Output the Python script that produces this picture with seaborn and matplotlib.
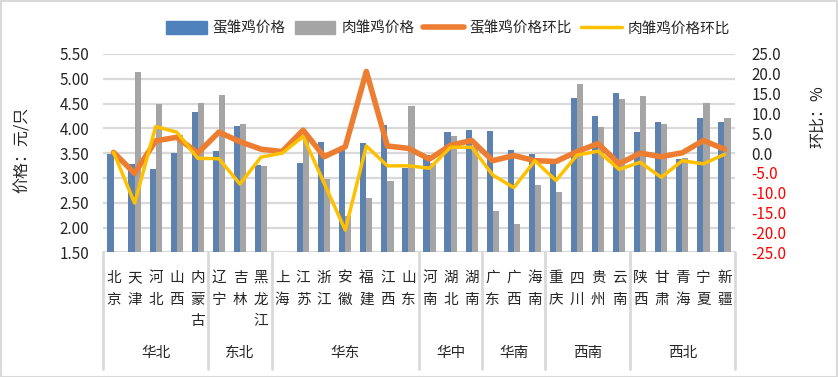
import numpy as np
import pandas as pd
import matplotlib
matplotlib.use('Agg')
import matplotlib.pyplot as plt
import matplotlib.transforms as mtransforms
from matplotlib.patches import Rectangle
from matplotlib.lines import Line2D
import seaborn as sns

# 数据
provincias = ['北京', '天津', '河北', '山西', '内蒙古', '辽宁', '吉林', '黑龙江',
              '上海', '江苏', '浙江', '安徽', '福建', '江西', '山东',
              '河南', '湖北', '湖南', '广东', '广西', '海南',
              '重庆', '四川', '贵州', '云南', '陕西', '甘肃', '青海', '宁夏', '新疆']
regiones = ['华北', '东北', '华东', '华中', '华南', '西南', '西北']
tam_regiones = [5, 3, 7, 3, 3, 4, 5]

precio_huevo = [3.48, 3.28, 3.18, 3.50, 4.33, 3.55, 4.05, 3.26, np.nan, 3.30,
                3.73, 3.62, 3.70, 4.07, 3.21, 3.46, 3.93, 3.97, 3.95, 3.56,
                3.48, 3.30, 4.61, 4.25, 4.71, 3.93, 4.13, 3.38, 4.21, 4.13]
precio_carne = [np.nan, 5.14, 4.49, 3.87, 4.51, 4.67, 4.09, 3.24, np.nan, 3.88,
                2.98, 2.24, 2.60, 2.94, 4.45, 3.30, 3.85, 3.65, 2.33, 2.07,
                2.86, 2.72, 4.90, 4.03, 4.59, 4.65, 4.09, 3.40, 4.51, 4.21]
var_huevo = [0.2, -5.1, 3.1, 4.0, 0.0, 5.3, 2.9, 1.0, 0.4, 5.8,
             -0.9, 1.6, 20.6, 1.8, 1.2, -1.5, 2.0, 3.2, -1.9, -0.6,
             -1.9, -2.1, 0.4, 2.4, -2.7, 0.0, -0.9, 0.1, 3.2, 1.0]
var_carne = [0.2, -12.6, 6.7, 5.3, -1.3, -1.4, -7.8, -1.0, 0.0, 4.2,
             -7.6, -19.4, 1.8, -3.2, -3.2, -3.8, 1.5, 1.5, -5.5, -8.7,
             -1.9, -6.9, -0.5, 0.5, -4.1, -2.3, -6.1, -1.9, -2.7, -0.3]

sns.set_theme(style='white')
plt.rcParams['font.family'] = ['Noto Sans CJK SC', 'DejaVu Sans']
plt.rcParams['axes.unicode_minus'] = False

W, H = 838, 377
fig = plt.figure(figsize=(W / 100, H / 100), dpi=100)
ax = fig.add_axes([103 / W, 1 - 252.3 / H, (735 - 103) / W, (252.3 - 54) / H])

# Barras
df = pd.DataFrame({
    'provincia': provincias * 2,
    'serie': ['蛋雏鸡价格'] * len(provincias) + ['肉雏鸡价格'] * len(provincias),
    'precio': precio_huevo + precio_carne,
}).dropna()
sns.barplot(data=df, x='provincia', y='precio', hue='serie', order=provincias,
            hue_order=['蛋雏鸡价格', '肉雏鸡价格'], palette=['#4F81BD', '#A5A5A5'],
            width=0.58, linewidth=0, errorbar=None, ax=ax, legend=False, zorder=2)
ax.set_ylim(1.5, 5.5)
ax.set_yticks(np.arange(1.5, 5.51, 0.5))
ax.set_yticklabels([f'{v:.2f}' for v in np.arange(1.5, 5.51, 0.5)], fontsize=11, color='#262626')
ax.set_xlim(-0.5, len(provincias) - 0.5)
ax.set_xticks([])
ax.set_xlabel('')
ax.set_ylabel('')
ax.yaxis.grid(True, color='#D9D9D9', linewidth=1.6, zorder=0)
ax.set_axisbelow(True)
ax.tick_params(axis='y', length=0, pad=10)
for s in ax.spines.values():
    s.set_visible(False)

# Lineas (eje secundario)
ax2 = ax.twinx()
x = np.arange(len(provincias))
sns.lineplot(x=x, y=var_huevo, ax=ax2, color='#ED7D31', linewidth=4, sort=False)
sns.lineplot(x=x, y=var_carne, ax=ax2, color='#FFC000', linewidth=2.5, sort=False)
ax2.set_ylim(-25, 25)
ticks2 = np.arange(-25, 25.1, 5)
ax2.set_yticks(ticks2)
ax2.set_yticklabels([f'{v:.1f}' for v in ticks2], fontsize=11)
for lbl, v in zip(ax2.get_yticklabels(), ticks2):
    lbl.set_color('#FF0000' if v < 0 else '#262626')
ax2.tick_params(axis='y', length=0, pad=12)
ax2.grid(False)
for s in ax2.spines.values():
    s.set_visible(False)
ax.set_xlim(-0.5, len(provincias) - 0.5)

# Ejes de texto
fig.text(22 / W, 1 - 150 / H, '价格：元/只', rotation=90, ha='center', va='center',
         fontsize=11.5, color='#262626')
fig.text(818 / W, 1 - 117 / H, '环比：%', rotation=90, ha='center', va='center',
         fontsize=11.5, color='#262626')

# Etiquetas de categorias en varios niveles
trans = mtransforms.blended_transform_factory(ax.transData, fig.transFigure)
filas_y = [278, 300, 321]
for i, nombre in enumerate(provincias):
    for j, ch in enumerate(nombre):
        fig.text(i, 1 - filas_y[j] / H, ch, transform=trans, ha='center', va='center',
                 fontsize=10.5, color='#262626')

inicio = 0
bordes = [-0.5]
for reg, n in zip(regiones, tam_regiones):
    centro = inicio + (n - 1) / 2
    fig.text(centro, 1 - 353 / H, reg, transform=trans, ha='center', va='center',
             fontsize=10.5, color='#262626')
    inicio += n
    bordes.append(inicio - 0.5)
for b in bordes:
    fig.add_artist(Line2D([b, b], [1 - 252.3 / H, 1 - 369 / H], transform=trans,
                          color='#D9D9D9', linewidth=2))

# Leyenda
handles = [Rectangle((0, 0), 1, 1, color='#4F81BD'),
           Rectangle((0, 0), 1, 1, color='#A5A5A5'),
           Line2D([], [], color='#ED7D31', linewidth=4),
           Line2D([], [], color='#FFC000', linewidth=2.5)]
labels = ['蛋雏鸡价格', '肉雏鸡价格', '蛋雏鸡价格环比', '肉雏鸡价格环比']
fig.legend(handles, labels, loc='center', bbox_to_anchor=(448 / W, 1 - 28 / H), ncol=4,
           frameon=False, fontsize=10.5, handlelength=2.8, handleheight=1.0,
           columnspacing=0.6, handletextpad=0.4)

# Borde del grafico
fig.add_artist(Rectangle((0.5 / W, 0.5 / H), 1 - 1.5 / W, 1 - 1.5 / H, transform=fig.transFigure,
                         fill=False, edgecolor='#D9D9D9', linewidth=1.5))

plt.savefig('out.png', dpi=100)
